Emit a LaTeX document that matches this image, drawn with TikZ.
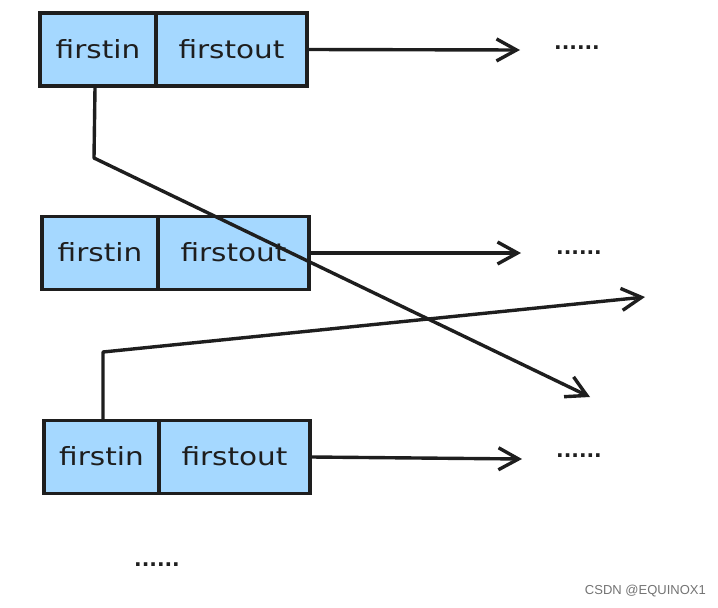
\documentclass[tikz,border=0pt]{standalone}
\usepackage{fontspec}
\setmainfont{DejaVu Sans}
\newfontfamily\wmfont{Liberation Sans}
\usetikzlibrary{arrows.meta}
\definecolor{cellblue}{HTML}{A5D8FF}
\definecolor{ink}{HTML}{1E1E1E}
\newcommand{\hw}[1]{\scalebox{1.18}[1]{#1}}
\begin{document}
\begin{tikzpicture}[x=1pt,y=-1pt,
 cell/.style={draw=ink, fill=cellblue, line width=3.4pt, minimum height=73pt, inner sep=0pt, text=ink, font=\fontsize{25}{30}\selectfont},
 link/.style={draw=ink, line width=3.4pt, line cap=round, line join=round},
 tip/.style={-{Straight Barb[length=20pt,width=22pt,line width=3.4pt]}},
 dots/.style={font=\bfseries\fontsize{20}{24}\selectfont, text=ink, inner sep=0pt}
]
\useasboundingbox (0,0) rectangle (718,608);
% row 1
\node[cell, minimum width=116pt] (l1) at (98,49.5) {\raisebox{1.5pt}{\hw{firstin}}};
\node[cell, minimum width=151pt] (r1) at (231.5,49.5) {\raisebox{1.5pt}{\hw{firstout}}};
% row 2
\node[cell, minimum width=116pt] (l2) at (100,253) {\raisebox{1.5pt}{\hw{firstin}}};
\node[cell, minimum width=151pt] (r2) at (233.5,253) {\raisebox{1.5pt}{\hw{firstout}}};
% row 3
\node[cell, minimum width=115pt] (l3) at (101.5,457) {\raisebox{1.5pt}{\hw{firstin}}};
\node[cell, minimum width=151pt] (r3) at (234.5,457) {\raisebox{1.5pt}{\hw{firstout}}};
% dots
\node[dots] (d1) at (577,48) {......};
\node[dots] (d2) at (579,253) {......};
\node[dots] (d3) at (579,456) {......};
\node[dots] (d4) at (157,565) {......};
% arrow ends
\coordinate (a1) at (520,50);
\coordinate (a2) at (521,253);
\coordinate (a3) at (522,459);
\coordinate (k1) at (94,158);
\coordinate (e1) at (590,397);
\coordinate (k2) at (103,352);
\coordinate (e2) at (645,297);
\draw[link,tip] (r1.east) -- (a1);
\draw[link,tip] (r2.east) -- (a2);
\draw[link,tip] (r3.east) -- (a3);
\draw[link,tip] ([xshift=-3pt]l1.south) -- (k1) -- (e1);
\draw[link,tip] ([xshift=1.5pt]l3.north) -- (k2) -- (e2);
% watermark
\node[font=\wmfont\fontsize{13}{15}\selectfont, text=black!55, anchor=east, inner sep=0pt] (wm) at (706,591) {CSDN @EQUINOX1};
\end{tikzpicture}
\end{document}
